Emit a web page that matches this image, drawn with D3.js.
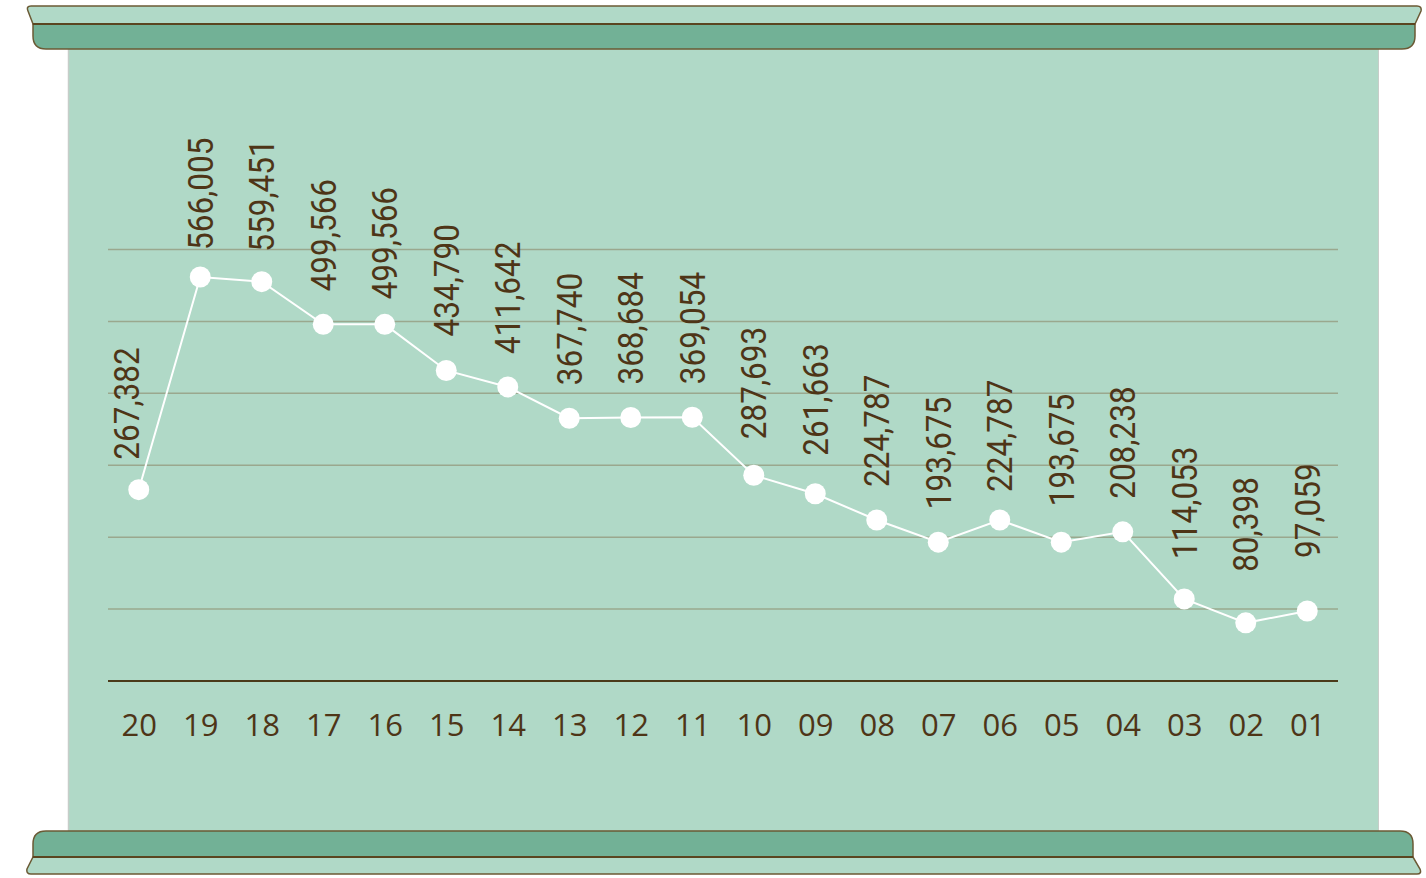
<!DOCTYPE html>
<html><head><meta charset="utf-8">
<script src="https://cdn.jsdelivr.net/npm/d3@7/dist/d3.min.js"></script>
<style>html,body{margin:0;padding:0;background:#fff;}svg{display:block;}</style>
</head><body>
<svg id="c" width="1426" height="878"></svg>
<script>
// ---- data ----
const categories = ["20","19","18","17","16","15","14","13","12","11","10","09","08","07","06","05","04","03","02","01"];
const values = [267382,566005,559451,499566,499566,434790,411642,367740,368684,369054,287693,261663,224787,193675,224787,193675,208238,114053,80398,97059];
const gridTicks = [100000,200000,300000,400000,500000,600000];

const svg = d3.select("#c");
const C = {panel:"#b0d9c7", dark:"#72b196", outline:"#6b5a35", divider:"#5a4520",
           text:"#4e3517", grid:"#9aa88e", base:"#4a3a1a"};

// panel
svg.append("rect").attr("x",68).attr("y",40).attr("width",1311).attr("height",800).attr("fill",C.panel);
svg.append("line").attr("x1",68.5).attr("x2",68.5).attr("y1",40).attr("y2",840).attr("stroke","#c7cdc9").attr("stroke-width",1.5);
svg.append("line").attr("x1",1378.5).attr("x2",1378.5).attr("y1",40).attr("y2",840).attr("stroke","#c7cdc9").attr("stroke-width",1);

// scroll ends
const scroll = svg.append("g");
scroll.append("path").attr("d","M33,24 L28,11 Q26,6 31,6 L1417,6 Q1422,6 1421,11 L1415,24 Z")
  .attr("fill",C.panel).attr("stroke",C.outline).attr("stroke-width",1.5);
scroll.append("path").attr("d","M33,24 L1415,24 L1415,36 Q1415,49 1402,49 L46,49 Q33,49 33,36 Z")
  .attr("fill",C.dark).attr("stroke",C.outline).attr("stroke-width",1.5);
scroll.append("line").attr("x1",33).attr("x2",1415).attr("y1",24).attr("y2",24).attr("stroke",C.divider).attr("stroke-width",2.2);

scroll.append("path").attr("d","M33,857 L1413,857 L1420,869 Q1422,874 1417,874 L31,874 Q26,874 27,869 Z")
  .attr("fill",C.panel).attr("stroke",C.outline).attr("stroke-width",1.5);
scroll.append("path").attr("d","M33,857 L33,844 Q33,831 46,831 L1400,831 Q1413,831 1413,844 L1413,857 Z")
  .attr("fill",C.dark).attr("stroke",C.outline).attr("stroke-width",1.5);
scroll.append("line").attr("x1",33).attr("x2",1413).attr("y1",857).attr("y2",857).attr("stroke",C.divider).attr("stroke-width",2.2);

// scales
const x = d3.scalePoint().domain(categories).range([108,1338]).padding(0.5);
const y = d3.scaleLinear().domain([0,600000]).range([680.1,252.8]);      // data marks
const yGrid = d3.scaleLinear().domain([0,600000]).range([681,249.5]);    // decorative rules

// grid
svg.append("g").selectAll("line").data(gridTicks).join("line")
  .attr("x1",108).attr("x2",1338).attr("y1",d=>yGrid(d)).attr("y2",d=>yGrid(d))
  .attr("stroke",C.grid).attr("stroke-width",1.5);

// baseline axis
const xAxis = svg.append("g").attr("transform",`translate(0,${yGrid(0)})`)
  .call(d3.axisBottom(x).tickSize(0).tickPadding(0));
xAxis.select(".domain").attr("d","M108,0H1338").attr("stroke",C.base).attr("stroke-width",2);
xAxis.selectAll(".tick text").attr("y",55).attr("dy",0)
  .attr("font-family","'Open Sans', sans-serif").attr("font-size",31).attr("fill",C.text);

// line
const data = categories.map((c,i)=>({c, v:values[i]}));
svg.append("path").datum(data)
  .attr("d", d3.line().x(d=>x(d.c)).y(d=>y(d.v)))
  .attr("fill","none").attr("stroke","#fff").attr("stroke-width",2);
svg.append("g").selectAll("circle").data(data).join("circle")
  .attr("cx",d=>x(d.c)).attr("cy",d=>y(d.v)).attr("r",10.5).attr("fill","#fff");

// value labels
const fmt = d3.format(",");
const nudge = {"20":[-12,-3],"19":[0,-6],"18":[0,-3],"16":[0,-8],"15":[0,1],"10":[0,3],"09":[0,5],
               "06":[0,-5],"05":[0,3],"03":[0,7],"02":[0,18],"01":[0,20]};
svg.append("g").selectAll("text").data(data).join("text")
  .attr("transform", d=>{
    const n = nudge[d.c] || [0,0];
    return `translate(${x(d.c)+12.5+n[0]},${y(d.v)-33-n[1]}) rotate(-90) scale(1,1.12)`;
  })
  .attr("text-anchor","start")
  .attr("font-family","Roboto, sans-serif").attr("font-size",31.5).attr("fill",C.text)
  .text(d=>fmt(d.v));
</script>
</body></html>
